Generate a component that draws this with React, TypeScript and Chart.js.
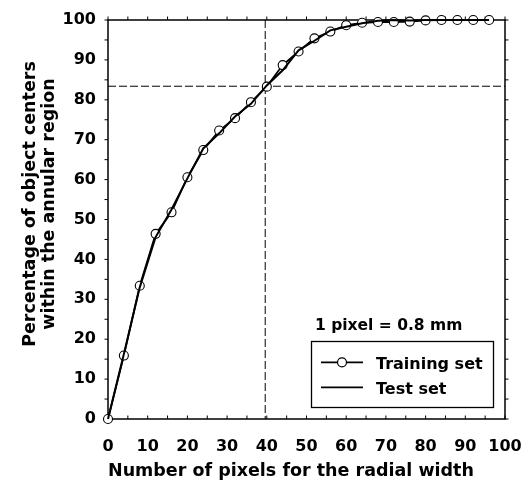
import { useEffect, useRef } from "react";
import { Chart, registerables } from "chart.js";

Chart.register(...registerables);

// ---- data ----
const xValues = [0, 4, 8, 12, 16, 20, 24, 28, 32, 36, 40, 44, 48, 52, 56, 60, 64, 68, 72, 76, 80, 84, 88, 92, 96];
const trainingSet = [0, 15.9, 33.4, 46.4, 51.8, 60.6, 67.4, 72.3, 75.4, 79.4, 83.3, 88.7, 92.1, 95.4, 97.1, 98.7, 99.3, 99.5, 99.5, 99.6, 99.9, 100, 100, 100, 100];
const testSet = [0, 16.3, 33.0, 45.6, 52.5, 60.3, 67.8, 71.6, 75.8, 79.0, 83.6, 87.4, 92.4, 94.8, 97.4, 98.3, 99.2, 99.8, 100, 99.9, 100, 100, 100, 100, 100];
const refX = 39.6;
const refY = 83.4;
const xTitle = "Number of pixels for the radial width";
const yTitleLines = ["Percentage of object centers", "within the annular region"];
const note = "1 pixel = 0.8 mm";
const legendLabels = ["Training set", "Test set"];

const FONT = "'DejaVu Sans', 'Liberation Sans', Arial, sans-serif";

const overlayPlugin = {
  id: "overlay",
  beforeDatasetsDraw(chart: any) {
    const { ctx, chartArea: a, scales } = chart;
    const xs = scales.x;
    const ys = scales.y;
    ctx.save();
    // dashed reference lines
    ctx.strokeStyle = "#000";
    ctx.lineWidth = 1;
    ctx.setLineDash([8, 3]);
    const px = xs.getPixelForValue(refX);
    const py = ys.getPixelForValue(refY);
    ctx.beginPath();
    ctx.moveTo(px, a.top);
    ctx.lineTo(px, a.bottom);
    ctx.moveTo(a.left, py);
    ctx.lineTo(a.right, py);
    ctx.stroke();
    ctx.setLineDash([]);
    // frame
    ctx.lineWidth = 1.5;
    ctx.strokeRect(a.left, a.top, a.right - a.left, a.bottom - a.top);
    // tick marks every 5
    ctx.lineWidth = 1;
    ctx.beginPath();
    for (let v = 0; v <= 100; v += 5) {
      const x = xs.getPixelForValue(v);
      ctx.moveTo(x, a.bottom);
      ctx.lineTo(x, a.bottom - 3.5);
      ctx.moveTo(x, a.top);
      ctx.lineTo(x, a.top - 3.5);
      const y = ys.getPixelForValue(v);
      ctx.moveTo(a.left, y);
      ctx.lineTo(a.left - 3.5, y);
      ctx.moveTo(a.right, y);
      ctx.lineTo(a.right + 3.5, y);
    }
    ctx.stroke();
    // y title
    ctx.fillStyle = "#000";
    ctx.font = `bold 17.5px ${FONT}`;
    ctx.textAlign = "center";
    ctx.textBaseline = "middle";
    ctx.translate(30, 204);
    ctx.rotate(-Math.PI / 2);
    yTitleLines.forEach((t, i) => ctx.fillText(t, 0, i * 19.5));
    ctx.restore();
  },
  afterDraw(chart: any) {
    const { ctx } = chart;
    ctx.save();
    ctx.fillStyle = "#000";
    ctx.strokeStyle = "#000";
    ctx.font = `bold 15.5px ${FONT}`;
    ctx.textAlign = "left";
    ctx.textBaseline = "alphabetic";
    ctx.fillText(note, 315, 329.5);
    // legend box
    ctx.lineWidth = 1.3;
    ctx.fillStyle = "#fff";
    ctx.fillRect(311.5, 341.5, 182, 66);
    ctx.strokeRect(311.5, 341.5, 182, 66);
    ctx.fillStyle = "#000";
    ctx.font = `bold 16px ${FONT}`;
    const rows = [362.3, 387.3];
    rows.forEach((y, i) => {
      ctx.lineWidth = 1.8;
      ctx.beginPath();
      ctx.moveTo(321, y);
      ctx.lineTo(363, y);
      ctx.stroke();
      if (i === 0) {
        ctx.beginPath();
        ctx.arc(342, y, 4.5, 0, Math.PI * 2);
        ctx.fillStyle = "#fff";
        ctx.fill();
        ctx.lineWidth = 1.2;
        ctx.stroke();
        ctx.fillStyle = "#000";
      }
      ctx.fillText(legendLabels[i], 376, y + 6.2);
    });
    ctx.restore();
  },
};

export default function App() {
  const ref = useRef<HTMLCanvasElement>(null);
  useEffect(() => {
    if (!ref.current) return;
    const tickFont = { family: FONT, size: 16, weight: "bold" as const };
    const chart = new Chart(ref.current, {
      type: "scatter",
      data: {
        datasets: [
          {
            label: legendLabels[1],
            data: xValues.map((x, i) => ({ x, y: testSet[i] })),
            showLine: true,
            borderColor: "#000",
            borderWidth: 2,
            pointRadius: 0,
            tension: 0,
            clip: false as any,
          },
          {
            label: legendLabels[0],
            data: xValues.map((x, i) => ({ x, y: trainingSet[i] })),
            showLine: true,
            borderColor: "#000",
            borderWidth: 1.8,
            pointRadius: 4.5,
            pointBorderWidth: 1.1,
            pointBackgroundColor: "#fff",
            pointBorderColor: "#000",
            tension: 0,
            clip: false as any,
          },
        ],
      },
      options: {
        responsive: false,
        animation: false,
        layout: { padding: { top: 20, right: 24, left: 0, bottom: 0 } },
        plugins: { legend: { display: false }, tooltip: { enabled: false } },
        scales: {
          x: {
            type: "linear",
            min: 0,
            max: 100,
            grid: { display: false, drawTicks: false },
            border: { display: false },
            ticks: { stepSize: 10, color: "#000", font: tickFont, padding: 18.5, maxRotation: 0, autoSkip: false },
            title: {
              display: true,
              text: xTitle,
              align: "start",
              color: "#000",
              font: { family: FONT, size: 17.5, weight: "bold" },
              padding: { top: 0, bottom: 1 },
            },
            afterFit: (s: any) => {
              s.height = 64;
              s.paddingLeft = 0;
              s.paddingRight = 0;
            },
          },
          y: {
            type: "linear",
            min: 0,
            max: 100,
            grid: { display: false, drawTicks: false },
            border: { display: false },
            ticks: { stepSize: 10, color: "#000", font: tickFont, padding: 12, autoSkip: false },
            afterFit: (s: any) => {
              s.width = 108;
              s.paddingTop = 0;
              s.paddingBottom = 0;
            },
          },
        },
      },
      plugins: [overlayPlugin],
    });
    return () => chart.destroy();
  }, []);
  return (
    <div style={{ position: "absolute", left: 0, top: 0, width: 529, height: 483, background: "#fff" }}>
      <canvas ref={ref} width={529} height={483} />
    </div>
  );
}
